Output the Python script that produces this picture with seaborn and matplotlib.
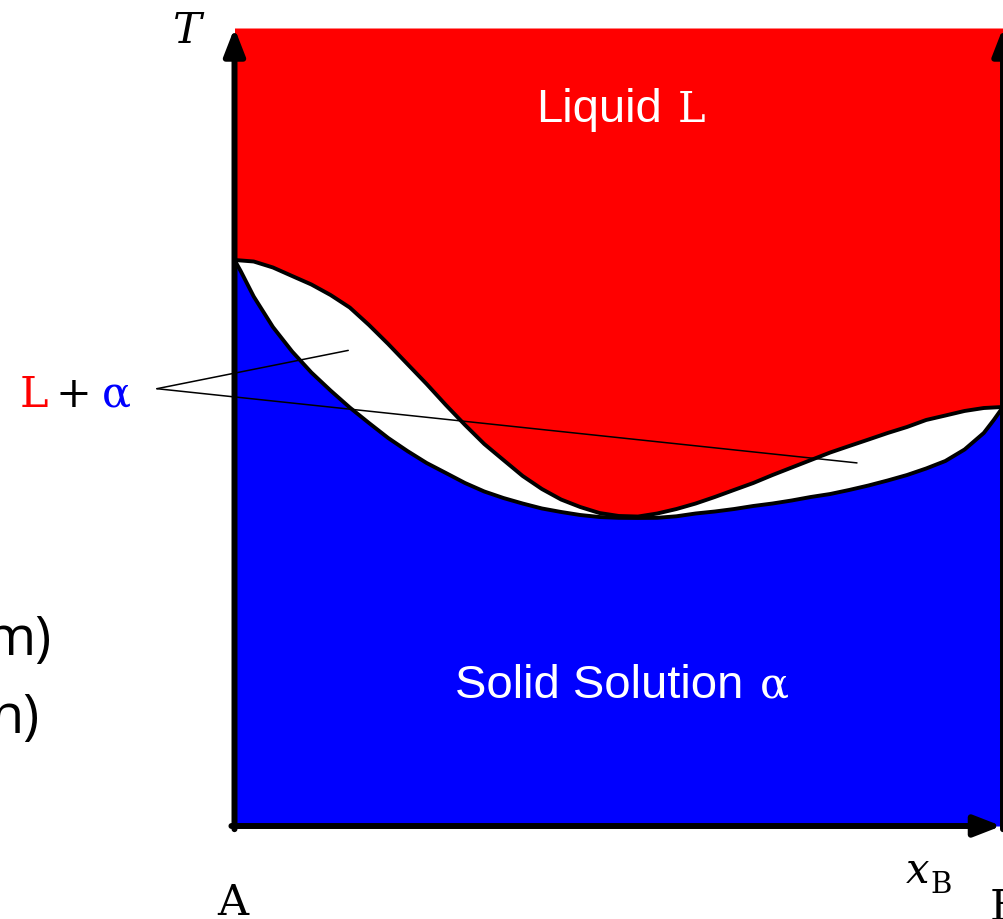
import matplotlib
matplotlib.use("Agg")
import matplotlib.pyplot as plt
import seaborn as sns
import pandas as pd

sns.set_theme(style="white")
plt.rcParams["font.family"] = ["DejaVu Sans"]

# ---- data (composition x_B, temperature T, both normalised 0..1) ----
liquidus_x = [0.000, 0.025, 0.050, 0.075, 0.100, 0.125, 0.150, 0.175, 0.200,
              0.225, 0.250, 0.275, 0.300, 0.325, 0.350, 0.375, 0.400, 0.425,
              0.450, 0.475, 0.500, 0.525, 0.550, 0.575, 0.600, 0.625, 0.650,
              0.675, 0.700, 0.725, 0.750, 0.775, 0.800, 0.825, 0.850, 0.875,
              0.900, 0.925, 0.950, 0.975, 1.000]
liquidus_T = [0.7093, 0.7074, 0.6999, 0.6892, 0.6786, 0.6654, 0.6497, 0.6278,
              0.6040, 0.5789, 0.5539, 0.5276, 0.5025, 0.4787, 0.4586, 0.4386,
              0.4223, 0.4091, 0.3997, 0.3922, 0.3885, 0.3878, 0.3916, 0.3972,
              0.4041, 0.4123, 0.4211, 0.4298, 0.4398, 0.4492, 0.4586, 0.4680,
              0.4762, 0.4843, 0.4925, 0.5000, 0.5088, 0.5144, 0.5201, 0.5238,
              0.5251]

solidus_x = [0.000, 0.008, 0.025, 0.050, 0.075, 0.100, 0.125, 0.150, 0.175,
             0.200, 0.225, 0.250, 0.275, 0.300, 0.325, 0.350, 0.375, 0.400,
             0.425, 0.450, 0.475, 0.500, 0.525, 0.550, 0.575, 0.600, 0.625,
             0.650, 0.675, 0.700, 0.725, 0.750, 0.775, 0.800, 0.825, 0.850,
             0.875, 0.900, 0.925, 0.950, 0.975, 0.988, 1.000]
solidus_T = [0.7093, 0.6955, 0.6635, 0.6253, 0.5946, 0.5683, 0.5457, 0.5244,
             0.5050, 0.4862, 0.4699, 0.4549, 0.4424, 0.4298, 0.4192, 0.4110,
             0.4041, 0.3979, 0.3935, 0.3897, 0.3872, 0.3862, 0.3860, 0.3862,
             0.3881, 0.3916, 0.3941, 0.3972, 0.4010, 0.4041, 0.4079, 0.4123,
             0.4160, 0.4211, 0.4267, 0.4330, 0.4398, 0.4480, 0.4574, 0.4718,
             0.4925, 0.5088, 0.5251]

region_labels = ["Liquid", "Solid Solution"]
phase_symbols = ["L", "α"]

liq = pd.DataFrame({"x": liquidus_x, "T": liquidus_T})
sol = pd.DataFrame({"x": solidus_x, "T": solidus_T})

W, H = 1004, 919
fig = plt.figure(figsize=(W / 100, H / 100), dpi=100)
ax = fig.add_axes([234.5 / W, 1 - 826 / H, 768.5 / W, 798 / H])
ax.set_xlim(0, 1)
ax.set_ylim(0, 1)
ax.axis("off")

# phase regions
ax.fill_between(liq["x"], liq["T"], 1, color="#FF0000", lw=0, zorder=1)
ax.fill_between(sol["x"], 0, sol["T"], color="#0000FF", lw=0, zorder=1)

# phase boundaries
for df in (liq, sol):
    sns.lineplot(data=df, x="x", y="T", ax=ax, color="black", lw=2.8,
                 estimator=None, sort=False, zorder=3,
                 solid_joinstyle="round", solid_capstyle="round")

# leader lines from the "L + α" label into the two-phase lens
label_pt = (-0.101, 0.548)
for end in [(0.148, 0.596), (0.810, 0.455)]:
    ax.plot([label_pt[0], end[0]], [label_pt[1], end[1]], color="black",
            lw=1.1, clip_on=False, zorder=4)

# axes with arrowheads
arrow = dict(arrowstyle="-|>,head_length=0.9,head_width=0.35", color="black",
             lw=4.3, mutation_scale=18, shrinkA=0, shrinkB=0)
ax.annotate("", xy=(0, 1), xytext=(0, -0.004), arrowprops=arrow,
            annotation_clip=False, zorder=5)
ax.annotate("", xy=(0.998, 0), xytext=(-0.004, 0), arrowprops=arrow,
            annotation_clip=False, zorder=5)
ax.annotate("", xy=(1.0, 1), xytext=(1.0, -0.004), arrowprops=arrow,
            annotation_clip=False, zorder=5)


def fx(px):
    return px / W


def fy(py):
    return 1 - py / H


sans = "Liberation Sans"
serif = "DejaVu Serif"

fig.text(fx(662), fy(122), region_labels[0], ha="right", va="baseline",
         family=sans, size=34, color="white", zorder=6)
fig.text(fx(678), fy(122), phase_symbols[0], ha="left", va="baseline",
         family=serif, size=30, color="white", zorder=6)
fig.text(fx(455), fy(698), region_labels[1], ha="left", va="baseline",
         family=sans, size=34, color="white", zorder=6)
fig.text(fx(760), fy(698), phase_symbols[1], ha="left", va="baseline",
         family=serif, size=31, color="white", zorder=6)

# two-phase label
fig.text(fx(20), fy(407), phase_symbols[0], ha="left", va="baseline",
         family=serif, size=31, color="#FF0000")
fig.text(fx(73), fy(407), "+", ha="center", va="baseline",
         family=serif, size=31, color="black")
fig.text(fx(116), fy(407), phase_symbols[1], ha="center", va="baseline",
         family=serif, size=31, color="#0000FF")

# axis labels
fig.text(fx(187), fy(43), "T", ha="center", va="baseline", family=serif,
         style="italic", size=31, color="black")
fig.text(fx(918), fy(883), "x", ha="center", va="baseline", family=serif,
         style="italic", size=30, color="black")
fig.text(fx(930), fy(893), "B", ha="left", va="baseline", family=serif,
         size=21, color="black")
fig.text(fx(232.5), fy(915), "A", ha="center", va="baseline", family=serif,
         size=31, color="black")
fig.text(fx(990), fy(920), "B", ha="left", va="baseline", family=serif,
         size=31, color="black")

# partially visible slide text at left
fig.text(fx(52), fy(655), "m)", ha="right", va="baseline", family="Open Sans",
         size=39, color="black")
fig.text(fx(40), fy(733), "n)", ha="right", va="baseline", family="Open Sans",
         size=39, color="black")

fig.savefig("out.png", dpi=100, facecolor="white")
